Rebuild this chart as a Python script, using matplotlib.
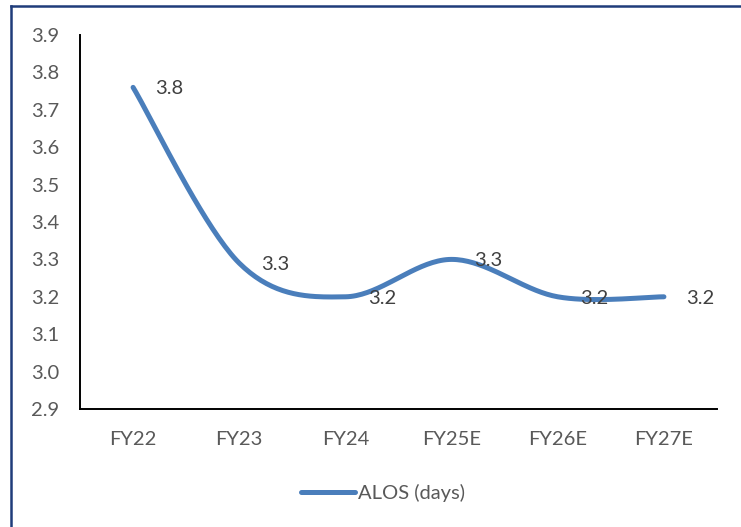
import numpy as np
import matplotlib
matplotlib.use("Agg")
import matplotlib.pyplot as plt
from matplotlib.lines import Line2D

categories = ["FY22", "FY23", "FY24", "FY25E", "FY26E", "FY27E"]
alos = [3.76, 3.29, 3.20, 3.30, 3.20, 3.20]
labels = ["3.8", "3.3", "3.2", "3.3", "3.2", "3.2"]
yticks = [2.9, 3.0, 3.1, 3.2, 3.3, 3.4, 3.5, 3.6, 3.7, 3.8, 3.9]
series_name = "ALOS (days)"

plt.rcParams['font.family'] = ['Lato', 'DejaVu Sans']

def catmull_rom(x, y, n=40):
    x = np.asarray(x, float); y = np.asarray(y, float)
    px = np.concatenate([[x[0]], x, [x[-1]]])
    py = np.concatenate([[y[0]], y, [y[-1]]])
    xs, ys = [], []
    for i in range(1, len(px) - 2):
        t = np.linspace(0, 1, n)
        p0, p1, p2, p3 = px[i-1], px[i], px[i+1], px[i+2]
        q0, q1, q2, q3 = py[i-1], py[i], py[i+1], py[i+2]
        b1x = p1 + (p2 - p0) / 6; b2x = p2 - (p3 - p1) / 6
        b1y = q1 + (q2 - q0) / 6; b2y = q2 - (q3 - q1) / 6
        bx = (1-t)**3*p1 + 3*(1-t)**2*t*b1x + 3*(1-t)*t**2*b2x + t**3*p2
        by = (1-t)**3*q1 + 3*(1-t)**2*t*b1y + 3*(1-t)*t**2*b2y + t**3*q2
        xs.append(bx); ys.append(by)
    return np.concatenate(xs), np.concatenate(ys)

fs = 14.5
fig = plt.figure(figsize=(7.41, 5.27), dpi=100)
ax = fig.add_axes([80/741, 1 - 409/527, (717-80)/741, (409-35)/527])

xpos = np.arange(len(categories))
sx, sy = catmull_rom(xpos, alos)
color = '#4A7EBB'
ax.plot(sx, sy, color=color, lw=3.6, solid_capstyle='round', label=series_name)

for x, v, lab in zip(xpos, alos, labels):
    ax.annotate(lab, (x, v), xytext=(16, -1), textcoords='offset points',
                ha='left', va='center', fontsize=fs, color='#404040')

ax.set_xlim(-0.5, len(categories) - 0.5)
ax.set_ylim(yticks[0], yticks[-1])
ax.set_xticks(xpos)
ax.set_xticklabels(categories)
ax.set_yticks(yticks)
ax.set_yticklabels([f"{t:.1f}" for t in yticks])
ax.tick_params(length=0, labelsize=fs, labelcolor='#595959')
ax.tick_params(axis='y', pad=15)
ax.tick_params(axis='x', pad=16)
for s in ['top', 'right']:
    ax.spines[s].set_visible(False)
for s in ['left', 'bottom']:
    ax.spines[s].set_color('black')
    ax.spines[s].set_linewidth(1.4)

leg = fig.legend(loc='center', bbox_to_anchor=(383/741, 1 - 493/527), frameon=False,
                 fontsize=fs, handlelength=2.7, handletextpad=0.15)
for t in leg.get_texts():
    t.set_color('#595959')

border = '#1F3C7A'
fig.add_artist(Line2D([11/741, 1], [1 - 6/527, 1 - 6/527], transform=fig.transFigure, color=border, lw=1.8))
fig.add_artist(Line2D([11/741, 11/741], [0, 1 - 6/527], transform=fig.transFigure, color=border, lw=1.8))

fig.savefig("out.png", dpi=100, facecolor='white')
